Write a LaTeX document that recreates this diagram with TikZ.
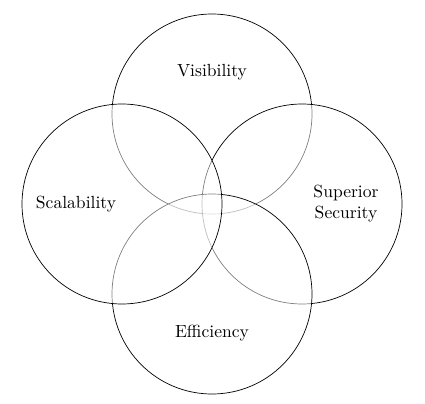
\documentclass[tikz,border=0pt]{standalone}
\usepackage{amsmath}
\usepackage{tikz}
\usetikzlibrary{positioning}
\usetikzlibrary{calc}

\begin{document}
\begin{tikzpicture}[
    venn_circle/.style={circle, draw=black, fill=white, fill opacity=0.5, draw opacity=1, minimum size=4cm, inner sep=0pt},
    area_text/.style={align=center, text opacity=1}
]
    \useasboundingbox (-4.24,-3.98) rectangle (4.26,4.08);

    % Circles
    \node (c_vis) [venn_circle] at (0,1.8) {};
    \node (c_sec) [venn_circle] at (1.8,0) {};
    \node (c_eff) [venn_circle] at (0,-1.8) {};
    \node (c_sca) [venn_circle] at (-1.8,0) {};

    % Labels
    \node (t_vis) [area_text] at ([yshift=0.84cm]c_vis.center) {Visibility};
    \node (t_sec) [area_text] at ([xshift=0.88cm]c_sec.center) {Superior\\Security};
    \node (t_eff) [area_text] at ([yshift=-0.78cm]c_eff.center) {Efficiency};
    \node (t_sca) [area_text] at ([xshift=-0.92cm]c_sca.center) {Scalability};

\end{tikzpicture}
\end{document}
